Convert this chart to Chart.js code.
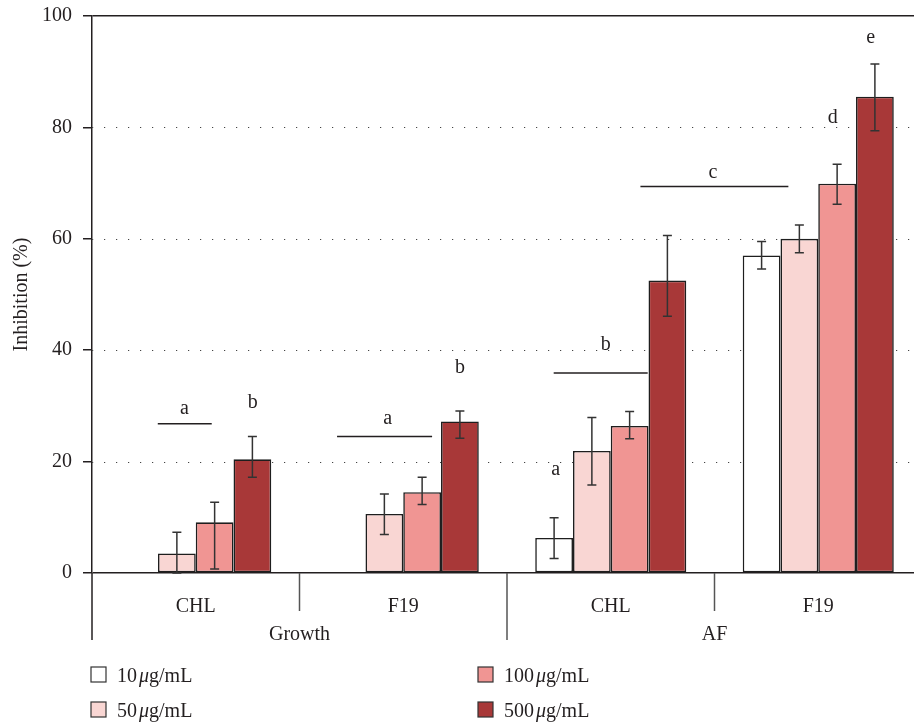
<!DOCTYPE html>
<html>
<head>
<meta charset="utf-8">
<script src="https://cdn.jsdelivr.net/npm/chart.js@4.4.0/dist/chart.umd.min.js"></script>
<style>
  html, body { margin: 0; padding: 0; background: #fff; overflow: hidden; }
  #wrap { width: 922px; height: 727px; }
</style>
</head>
<body>
<div id="wrap"><canvas id="chart"></canvas></div>
<script>
// categories on the x axis and the two groups they belong to
const categories = ['CHL', 'F19', 'CHL', 'F19'];
const groups = ['Growth', 'AF'];
const groupMembers = [[0, 1], [2, 3]];

const concLabels = ['10 μg/mL', '50 μg/mL', '100 μg/mL', '500 μg/mL'];
const concColors = ['#ffffff', '#f9d6d3', '#f09593', '#a83838'];

// inhibition (%) per concentration
const inhib10 = [null, null, 6.3, 57.0];
const inhib50 = [3.5, 10.6, 21.9, 60.0];
const inhib100 = [9.1, 14.5, 26.4, 69.9];
const inhib500 = [20.4, 27.2, 52.5, 85.5];

// error bar ends [low, high]
const err10 = [null, null, [2.6, 9.9], [54.6, 59.5]];
const err50 = [[0, 7.3], [6.9, 14.2], [15.8, 27.9], [57.5, 62.5]];
const err100 = [[0.7, 12.7], [12.3, 17.2], [24.1, 29.0], [66.2, 73.4]];
const err500 = [[17.2, 24.5], [24.2, 29.1], [46.1, 60.6], [79.4, 91.4]];

const yTicks = [0, 20, 40, 60, 80, 100];

// significance letters (x as fractional category index, y in %)
const sigText = ['a', 'b', 'a', 'b', 'a', 'b', 'c', 'd', 'e'];
const sigX = [-0.054, 0.275, 0.925, 1.274, 1.735, 1.976, 2.493, 3.07, 3.253];
const sigY = [28.5, 29.6, 26.7, 35.9, 17.6, 40.0, 71.0, 80.8, 95.1];
// significance bars
const barX0 = [-0.183, 0.681, 1.725, 2.143];
const barX1 = [0.077, 1.139, 2.178, 2.856];
const barY = [26.8, 24.5, 35.9, 69.4];

const INK = '#231f20';
const FONT = '"Liberation Serif", "DejaVu Serif", serif';

const extras = {
  id: 'extras',
  beforeDatasetsDraw(chart) {
    const {ctx, chartArea: a, scales: {y}} = chart;
    ctx.save();
    ctx.strokeStyle = '#444';
    ctx.lineWidth = 1.2;
    ctx.setLineDash([1.2, 10.8]);
    y.ticks.forEach(t => {
      if (t.value === 0 || t.value === 100) return;
      const py = Math.round(y.getPixelForValue(t.value)) + 0.5;
      ctx.beginPath(); ctx.moveTo(a.left, py); ctx.lineTo(a.right, py); ctx.stroke();
    });
    ctx.restore();
  },
  afterDatasetsDraw(chart) {
    const {ctx, chartArea: a, scales: {x, y}} = chart;
    ctx.save();

    // error bars
    ctx.strokeStyle = '#333';
    ctx.lineWidth = 1.5;
    chart.data.datasets.forEach((ds, di) => {
      chart.getDatasetMeta(di).data.forEach((bar, i) => {
        const e = ds.errorBars[i];
        if (!e) return;
        const lo = y.getPixelForValue(e[0]), hi = y.getPixelForValue(e[1]);
        ctx.beginPath();
        ctx.moveTo(bar.x, lo); ctx.lineTo(bar.x, hi);
        ctx.moveTo(bar.x - 4.5, lo); ctx.lineTo(bar.x + 4.5, lo);
        ctx.moveTo(bar.x - 4.5, hi); ctx.lineTo(bar.x + 4.5, hi);
        ctx.stroke();
      });
    });

    // significance bars and letters
    ctx.strokeStyle = INK;
    ctx.lineWidth = 1.5;
    barY.forEach((v, i) => {
      const py = y.getPixelForValue(v);
      ctx.beginPath();
      ctx.moveTo(x.getPixelForValue(barX0[i]), py);
      ctx.lineTo(x.getPixelForValue(barX1[i]), py);
      ctx.stroke();
    });
    ctx.fillStyle = INK;
    ctx.font = '20px ' + FONT;
    ctx.textAlign = 'center';
    ctx.textBaseline = 'alphabetic';
    sigText.forEach((s, i) => {
      ctx.fillText(s, x.getPixelForValue(sigX[i]), y.getPixelForValue(sigY[i]));
    });

    // y axis continues below the plot, separators and category labels
    ctx.strokeStyle = INK;
    ctx.lineWidth = 1.5;
    ctx.beginPath();
    ctx.moveTo(a.left, a.bottom); ctx.lineTo(a.left, 640);
    ctx.stroke();
    ctx.strokeStyle = '#555';
    for (let i = 1; i < categories.length; i++) {
      const px = x.getPixelForValue(i - 0.5);
      const isGroupEdge = groupMembers.some(g => g[0] === i);
      ctx.beginPath();
      ctx.moveTo(px, a.bottom); ctx.lineTo(px, isGroupEdge ? 640 : 611);
      ctx.stroke();
    }
    categories.forEach((c, i) => {
      ctx.fillText(c, x.getPixelForValue(i), 612);
    });
    groups.forEach((g, gi) => {
      const m = groupMembers[gi];
      ctx.fillText(g, x.getPixelForValue((m[0] + m[m.length - 1]) / 2), 640);
    });

    // y axis title
    ctx.save();
    ctx.translate(27, (a.top + a.bottom) / 2);
    ctx.rotate(-Math.PI / 2);
    ctx.fillText('Inhibition (%)', 0, 0);
    ctx.restore();

    // legend, two columns
    const colX = [91, 478];
    const rowY = [682, 717];
    ctx.textAlign = 'left';
    chart.data.datasets.forEach((ds, di) => {
      const bx = colX[Math.floor(di / 2)], by = rowY[di % 2];
      ctx.fillStyle = ds.backgroundColor;
      ctx.fillRect(bx, by - 15, 15, 15);
      ctx.strokeStyle = '#333';
      ctx.lineWidth = 1.2;
      ctx.strokeRect(bx, by - 15, 15, 15);
      const [num, unit] = ds.label.split(' ');
      let tx = bx + 26;
      ctx.fillStyle = INK;
      ctx.font = '20px ' + FONT;
      ctx.fillText(num, tx, by);
      tx += ctx.measureText(num).width + 2;
      ctx.font = 'italic 20px ' + FONT;
      ctx.fillText(unit[0], tx, by);
      tx += ctx.measureText(unit[0]).width;
      ctx.font = '20px ' + FONT;
      ctx.fillText(unit.slice(1), tx, by);
    });

    ctx.restore();
  }
};

const values = [inhib10, inhib50, inhib100, inhib500];
const errors = [err10, err50, err100, err500];

new Chart(document.getElementById('chart'), {
  type: 'bar',
  data: {
    labels: categories,
    datasets: concLabels.map((lab, i) => ({
      label: lab,
      data: values[i],
      errorBars: errors[i],
      backgroundColor: concColors[i],
      borderColor: '#1e1e1e',
      borderWidth: 1.6,
      borderSkipped: false,
      categoryPercentage: 0.728,
      barPercentage: 1.0
    }))
  },
  options: {
    responsive: true,
    maintainAspectRatio: false,
    animation: false,
    layout: { padding: { top: 16, left: 0, right: 0, bottom: 0 } },
    plugins: { legend: { display: false }, tooltip: { enabled: false } },
    scales: {
      x: {
        ticks: { display: false },
        grid: { display: false },
        border: { display: false },
        afterFit: s => { s.height = 154; s.paddingLeft = 0; s.paddingRight = 0; }
      },
      y: {
        min: 0,
        max: 100,
        afterBuildTicks: s => { s.ticks = yTicks.map(v => ({ value: v })); },
        ticks: { color: INK, font: { family: FONT, size: 20 }, padding: 11 },
        grid: {
          color: c => (c.tick && (c.tick.value === 0 || c.tick.value === 100)) ? INK : 'rgba(0,0,0,0)',
          lineWidth: 1.5,
          tickColor: INK,
          tickLength: 9,
          tickWidth: 1.5
        },
        border: { display: true, color: INK, width: 1.5 },
        afterFit: s => { s.width = 92; s.paddingTop = 0; s.paddingBottom = 0; }
      }
    }
  },
  plugins: [extras]
});
</script>
</body>
</html>
